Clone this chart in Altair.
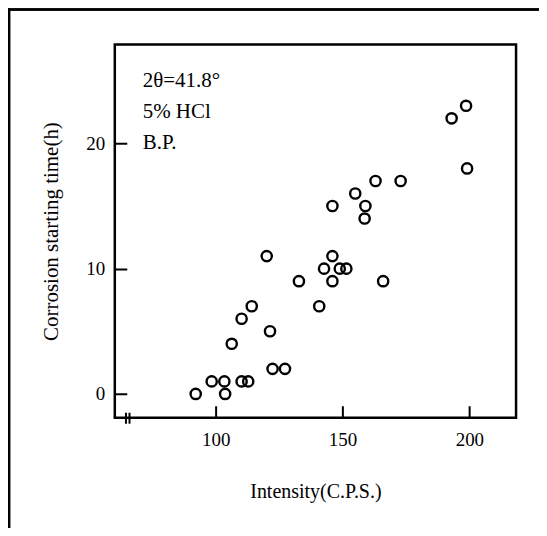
import altair as alt
import pandas as pd

# Data
intensity = [92.1, 98.4, 103.4, 103.7, 110.2, 112.8, 106.3, 110.2, 114.2, 121.4,
             122.4, 127.3, 120.1, 132.8, 140.8, 142.7, 146.0, 146.0, 148.9, 151.5,
             146.0, 155.0, 159.0, 158.7, 163.0, 172.9, 166.0, 193.0, 198.7, 199.1]
start_time = [0, 1, 1, 0, 1, 1, 4, 6, 7, 5,
              2, 2, 11, 9, 7, 10, 11, 9, 10, 10,
              15, 16, 15, 14, 17, 17, 9, 22, 23, 18]

x_ticks = [100, 150, 200]
y_ticks = [0, 10, 20]
notes = ["2θ=41.8°", "5% HCl", "B.P."]
note_x = [71.2, 71.2, 71.2]
note_y = [25.0, 22.5, 20.0]
break_x = [64.6, 66.0]

X_DOMAIN = [60.2, 218.4]
Y_DOMAIN = [-1.9, 27.9]
W, H = 402, 374
FONT = "Liberation Serif"
TICK = 12

df = pd.DataFrame({"x": intensity, "y": start_time})
df_notes = pd.DataFrame({"t": notes, "x": note_x, "y": note_y})
df_break = pd.DataFrame({"x": break_x})

xs = alt.Scale(domain=X_DOMAIN, nice=False, zero=False)
ys = alt.Scale(domain=Y_DOMAIN, nice=False, zero=False)

points = alt.Chart(df).mark_point(
    shape="circle", filled=False, size=105, stroke="black", strokeWidth=2.4, opacity=1
).encode(
    x=alt.X("x:Q", scale=xs, title="Intensity(C.P.S.)",
            axis=alt.Axis(values=x_ticks, ticks=True, tickSize=TICK, tickWidth=2,
                          tickColor="black", offset=-TICK, domain=False, grid=False,
                          labelPadding=13, labelFontSize=19, labelFont=FONT,
                          labelColor="black", titleFont=FONT, titleFontSize=20,
                          titleFontWeight="normal", titleColor="black", titlePadding=32)),
    y=alt.Y("y:Q", scale=ys, title="Corrosion starting time(h)",
            axis=alt.Axis(values=y_ticks, ticks=True, tickSize=TICK, tickWidth=2,
                          tickColor="black", offset=-TICK, domain=False, grid=False,
                          labelPadding=10, labelFontSize=19, labelFont=FONT,
                          labelColor="black", titleFont=FONT, titleFontSize=21,
                          titleFontWeight="normal", titleColor="black", titlePadding=24)),
)

break_rules = alt.Chart(df_break).mark_rule(color="black", strokeWidth=2).encode(
    x=alt.X("x:Q", scale=xs), y=alt.value(H - 5), y2=alt.value(H + 6)
)

texts = alt.Chart(df_notes).mark_text(
    align="left", baseline="middle", font=FONT, fontSize=21, color="black"
).encode(
    x=alt.X("x:Q", scale=xs), y=alt.Y("y:Q", scale=ys), text="t:N"
)

# outer page frame (top and left edges of the scanned figure)
frame_top = alt.Chart(df_break).mark_rule(color="black", strokeWidth=2.5).encode(
    x=alt.value(-107), x2=alt.value(W + 30), y=alt.value(-35)
)
frame_left = alt.Chart(df_break).mark_rule(color="black", strokeWidth=2.5).encode(
    x=alt.value(-106), y=alt.value(-36), y2=alt.value(H + 120)
)

chart = alt.layer(
    frame_top, frame_left, break_rules, texts, points
).properties(
    width=W, height=H,
    padding={"left": 107, "top": 36, "right": 23, "bottom": 110},
    autosize=alt.AutoSizeParams(type="none"),
    background="white",
).configure_view(
    stroke="black", strokeWidth=2.5
)

chart.save("out.html", embed_options={"renderer": "svg", "actions": False})
